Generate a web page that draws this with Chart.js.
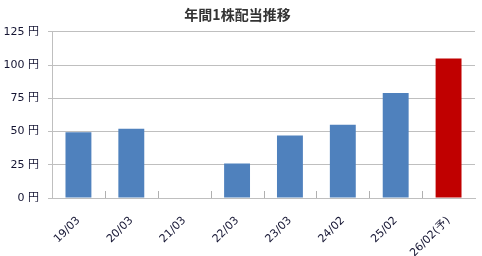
<!DOCTYPE html>
<html lang="ja">
<head>
    <meta charset="utf-8">
    <title>年間1株配当推移</title>
    <script src="https://cdn.jsdelivr.net/npm/chart.js"></script>
    <style>
        html, body { margin: 0; padding: 0; background: #fff; }
        #wrap { width: 482px; height: 256px; }
    </style>
</head>
<body>
    <div id="wrap"><canvas id="divChart" width="482" height="256"></canvas></div>

    <script>
        var periods = ['19/03', '20/03', '21/03', '22/03', '23/03', '24/02', '25/02', '26/02(予)'];
        var dividends = [49.5, 52, 0, 26, 47, 55, 79, 105];
        var barColors = ['#4f81bd', '#4f81bd', '#4f81bd', '#4f81bd', '#4f81bd', '#4f81bd', '#4f81bd', '#c00000'];
        var yTicks = [0, 25, 50, 75, 100, 125];

        var gridColor = '#bfbfbf';
        var labelFont = "'DejaVu Sans', 'Noto Sans CJK JP', sans-serif";
        var titleFont = "'Noto Sans CJK JP', sans-serif";

        // Excel style: small category tick marks pointing up into the plot
        var innerTicks = {
            id: 'innerTicks',
            afterDatasetsDraw: function(chart) {
                var x = chart.scales.x;
                var ctx = chart.ctx;
                var bottom = Math.round(chart.chartArea.bottom);
                ctx.save();
                ctx.strokeStyle = '#b0b0b0';
                ctx.lineWidth = 1;
                ctx.beginPath();
                for (var i = 1; i < periods.length; i++) {
                    var px = Math.round((x.getPixelForValue(i - 1) + x.getPixelForValue(i)) / 2) + 0.5;
                    ctx.moveTo(px, bottom);
                    ctx.lineTo(px, bottom - 7);
                }
                ctx.stroke();
                ctx.restore();
            }
        };

        var ctx = document.getElementById('divChart').getContext('2d');
        var myChart = new Chart(ctx, {
            type: 'bar',
            data: {
                labels: periods,
                datasets: [{
                    label: '1株配当',
                    data: dividends,
                    backgroundColor: barColors,
                    barPercentage: 0.49,
                    categoryPercentage: 1.0
                }]
            },
            options: {
                responsive: false,
                animation: false,
                layout: { padding: { left: 0, right: 7, top: 0, bottom: 0 } },
                plugins: {
                    legend: { display: false },
                    tooltip: { enabled: false },
                    title: {
                        display: true,
                        text: '年間1株配当推移',
                        color: '#333333',
                        font: { family: titleFont, size: 14, weight: 'bold' },
                        padding: { top: 6, bottom: 9 }
                    }
                },
                scales: {
                    x: {
                        grid: { display: false, offset: true },
                        border: { color: gridColor, width: 1 },
                        ticks: {
                            color: '#141432',
                            font: { family: labelFont, size: 11 },
                            maxRotation: 45,
                            minRotation: 45,
                            padding: 8,
                            autoSkip: false
                        },
                        afterFit: function(scale) { scale.height = 58; }
                    },
                    y: {
                        min: 0,
                        max: 125,
                        afterBuildTicks: function(scale) {
                            scale.ticks = yTicks.map(function(v) { return { value: v }; });
                        },
                        grid: { color: gridColor, tickLength: 4 },
                        border: { color: gridColor, width: 1 },
                        ticks: {
                            color: '#141432',
                            font: { family: labelFont, size: 11 },
                            padding: 9,
                            callback: function(v) { return v + ' 円'; }
                        },
                        afterFit: function(scale) { scale.width = 52; }
                    }
                }
            },
            plugins: [innerTicks]
        });
    </script>
</body>
</html>
